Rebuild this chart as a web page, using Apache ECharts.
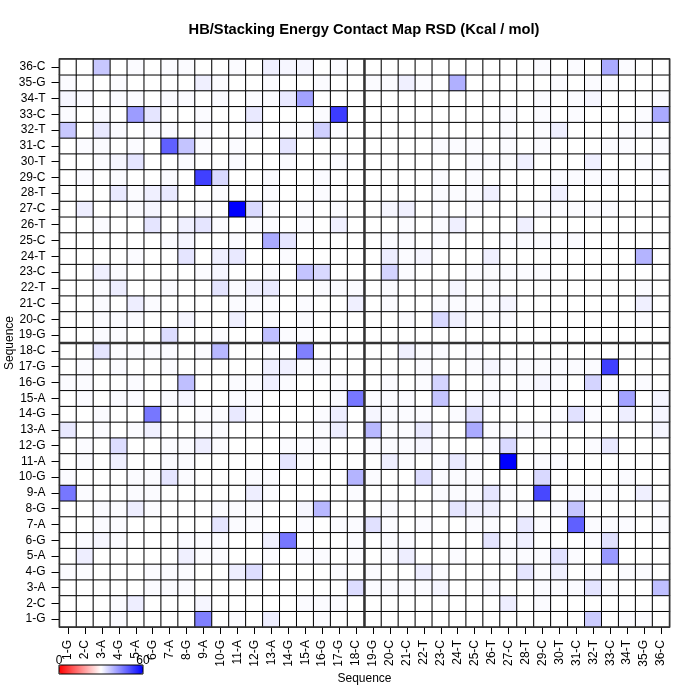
<!DOCTYPE html>
<html><head><meta charset="utf-8">
<script src="https://cdn.jsdelivr.net/npm/echarts@6/dist/echarts.min.js"></script>
<style>html,body{margin:0;padding:0;background:#fff}#c{width:700px;height:700px}</style>
</head><body><div id="c"></div>
<script>
const sequence = ['1-G','2-C','3-A','4-G','5-A','6-G','7-A','8-G','9-A','10-G','11-A','12-G','13-A','14-G','15-A','16-G','17-G','18-C','19-G','20-C','21-C','22-T','23-C','24-T','25-C','26-T','27-C','28-T','29-C','30-T','31-C','32-T','33-C','34-T','35-G','36-C'];
const legendTicks = ['0', '60'];
const colorMin = 0, colorMax = 60;
// rows: index 0 = '1-G' (bottom) ... index 35 = '36-C' (top); columns 1-G..36-C
const rsd = [
[30,30,30,30.5,30,30,30,30,45,30, 30.5,30,32,30,30,30.5,30,30,30,30, 30,30,30,30,30,30,30,30,30,30, 30,36,30,30.5,30.5,30],
[30,30,30,30.5,32,30,30,30,31,30, 30,30,30,30,30.5,30.5,30.5,30,30,30, 30,30,30,30,30,30,32,30,30.5,30, 30,30,30,30,30,30],
[30,30,30,30,30,30.5,30.5,30.5,30,30, 30,30,30,30,30,30,30,34,30.5,30.5, 30.5,30.5,31,30,30,30.5,30,30,30.5,30.5, 30.5,33,30.5,30,30,37.5],
[30.5,30.5,30,30,30,30.5,30.5,30.5,30,30, 32,34,30,30,30,30,30.5,30,30.5,30, 30,32,30.5,30,30,30,30,33,30.5,31.8, 30,30.5,30,30.5,30.5,30],
[30,32,30,30,30,30,30,31.8,30.5,30.5, 30,30,30.5,30,30.5,30.5,30,30.5,30,30.5, 32,30,30,30.5,30,30,30.5,30.5,30.5,33.5, 30.5,30,42,30,30,30],
[30,30.5,31,30.5,30,30,30,30.5,30.5,30.5, 30,30,31.8,46,30,30,30,30.5,30,30.5, 30.5,30,30,30,30,33,30.5,31.8,30,30, 30,30.5,33.5,30,30,30],
[30,30,30.5,30.5,30,30,30,30,30,33, 30.5,30.5,30,30,30.5,30,30.5,30.5,33.5,30.5, 30,30.5,30,30,30.5,30.5,30,32.6,30.5,30, 48.7,30.5,30.5,30.5,30,30.5],
[30,30,30.5,30.5,32,30.5,30,30,30,30.5, 30.5,30.5,30,30,31,38.4,30,30,30,30.5, 30,30,30,33,31.8,31.8,30,30.5,30,30.5, 37,30,30,30,30,30.5],
[46,30.5,30,30,30.5,30.5,30,30,30,30, 30,32,30.5,30,30,30,30,30.5,30,30, 30,30,30.5,30.5,30.5,33,30.5,30,51.5,30, 30.5,30.5,30.5,30,31.8,30],
[30.5,30,30,30,30.5,30.5,33,30.5,30,30, 30,30.5,30.5,30,30,30,30,38.8,30.5,30, 30,34,30.5,30.5,30.5,30,30,30,34.5,30, 30,30,30,30.5,30,30],
[30,30.5,30,31.8,30,30,30.5,30.5,30,30, 30,30,30,33,30.5,30,30,30,30,32, 30.5,30,30.5,32.6,30.5,30,60,30,30.5,30.5, 30,30,30,30,30,30],
[30,30.5,30,34,30,30,30.5,30.5,32,30.5, 30,30,30,30.5,30.5,30.5,30,30,30.5,30.5, 30.5,31,30,30,30,30.5,34.5,30,30,30, 30,30.5,32.6,30,30,30],
[32.6,30,30.5,30,30.5,31.8,30,30,30.5,30.5, 30,30,30,30,30,30.5,32,30,38.4,30.5, 30.5,32.6,30.5,30,40,30.5,30.5,30.5,30.5,30, 30,30,30,30,30,31],
[30,30,30.5,30,30,46,30,30,30.5,30.5, 32.6,30.5,30,30,30,30.5,32,30,31,30.5, 30.5,30.5,30,30.5,33.5,30,30,30,30,30.5, 33.5,30.5,30,32,30,31],
[30,30.5,30,30.5,30.5,30,30.5,31,30,30, 30.5,30.5,30,30,30,30,30.5,46,30.5,30.5, 30.5,30,37,30,30.5,30.5,30.5,30,30,30, 30,30,30,41,30,31],
[30.5,30.5,30,30,30.5,30,30,37.5,30,30, 30.5,30.5,31.8,30.5,30,30,30.5,30,30,30.5, 30,30.5,35,30,30,30.5,30,30.5,31,30.5, 30,35,30.5,30,30.5,30],
[30,30.5,30,30.5,30,30,30.5,30,30,30, 30,30,31.8,31.8,30.5,30.5,30,30,30,30, 30,30.5,30,30,30.5,31,30.5,30.5,30.5,30.5, 30.5,30.5,52.5,30,30,30],
[30,30,33,30.5,30.5,30.5,30.5,30,30.5,38.4, 30,30,30.5,30,45,30,30,30,30,30, 31.8,30.5,30.5,30,30.5,30,30,30,30,30, 30,30,30,30,30,30],
[30,30,30.5,30.5,30,30,34,30,30,30.5, 30,30,37.5,30.5,30.5,30,30,30,30,30, 30,30,30,30,30,30,30,30,30,30, 30,30,30,30,30,30],
[30,30,30.5,30.5,30.5,30,30,31,30,30, 31.8,30,30.5,30,30.5,30,30,30,30,30, 30.5,30,34.5,31.8,30.5,30.5,30.5,30,30,30, 30,30,30,30,30.5,30],
[30,30,30.5,30,32,30.5,30,30,30,30, 30.5,30.5,30.5,30,30.5,30,30,31.8,30,30.5, 30,30,30.5,30.5,30.5,30.5,31,30,30,30, 30,30,30,30,31.8,30],
[30,30,30.5,32,30,30,30.5,30,30,33, 30.5,31.8,32.6,30,30,30.5,30.5,30.5,30,30.5, 30,30,30,31,30,30.5,30,30,30,30, 30,30,30,30,30.5,30],
[30,30,31.8,30.5,30,30,30,30,30.5,31, 30,30,30.5,30,37,34.5,30,30,30,35, 30.5,30,30,30,30.5,30.5,30.5,30.5,30.5,30, 30,30,30,30,30,30],
[30,30,30,30,30.5,30,30,33,30,31.8, 32.6,30,30,30.5,30,30,30,30,30,32, 30.5,31,30,30,30,31.8,30,30,30,30, 30,30,30,30,38.8,30],
[30,30,30,30,30,30,30.5,31,30,30, 30.5,30,40,33,30,30,30,30,30,30.5, 30.5,30,30.5,30,30,30,30.5,30.5,30.5,30.5, 30.5,30,30,30,30,30],
[30,30,30.5,30,30,33,30,31.8,33,30.5, 30,30.5,30.5,30,30.5,30,31.8,30,30,30, 30.5,30,30.5,31.8,30,30,30,31.8,30,30, 30,30,30,30,30,30],
[30,32,30,30,30.5,31,30,30,30.5,30, 60,34.5,30.5,30,30.5,30,30.5,30,30,31, 31.8,30,30.5,30,30.5,30,30,30,30.5,30.5, 30.5,30.5,30.5,30,30,30],
[30,30,30,32.6,30.5,31.8,32.6,30,30,30.5, 30,30,30.5,30,30,30.5,30,30,30,30, 30,30,30.5,30.5,30.5,31.8,30,30,30,31.8, 30,30,30,30,30,30],
[30,30.5,30,30.5,30,30,30.5,30,52.5,34.5, 30,30,30.5,30,30,30.5,30,30,30,30, 30,30,30.5,30,30.5,30,30,30,30,30.5, 30.5,30.5,30.5,30,30,30.5],
[30,30,30.5,31,33,30,30,30.5,30,30, 30.5,30,30,30.5,30,30,30.5,30,30,30, 30,30,30,30,30.5,30.5,30.5,31.8,30,30, 30,31.8,30,30,30.5,30],
[30,30.5,30.5,30,30.5,30,48.7,37,30.5,30, 30.5,30,30,33,30,30,30,30,30,30, 30,30,30.5,30.5,30.5,30,30.5,30,30.5,30, 30,30,30.5,30.5,30,30.5],
[36.5,30,32.6,30.5,30,30.5,30.5,30,30.5,30, 30,30.5,30,30.5,30.5,35.5,30.5,30,30,30, 30,30,30,30,30,30,30.5,30,30.5,31.8, 30,30,30,30.5,30.5,30],
[30.5,30,30.5,30,41.6,33,30,30,30.5,30, 30,32.6,30,30,30,30.5,53,30,30,30, 30,30,30,30,30,30,30.5,30,30.5,30, 30.5,30,30,30,30.5,40],
[31,30.5,30,30.5,30.5,30,30.5,30.5,30,30.5, 30,30.5,30.5,32.6,41,30,30,30,30,30, 30,30,30,30,30,30,30,30,30.5,30, 30.5,31,30,30,30,30.5],
[30.5,30,30,30.5,30,30,30,30,31.8,30.5, 30,30,30.5,30,30,30.5,30,30,30.5,30.5, 31.8,30.5,30,39.3,30,30,30,30,30,30.5, 30,30.5,30.5,30,30,30],
[30,30,36.5,30,30.5,30,30.5,30.5,30,30, 30.5,30,31.8,31,31,30,30.5,30,30,30, 30,30,30,30,30,30,30,30,30.5,30, 30.5,30,40,30.5,30,30]
];

const chart = echarts.init(document.getElementById('c'), null, {renderer: 'canvas'});
const cells = [];
for (let r = 0; r < sequence.length; r++) {
  for (let c = 0; c < sequence.length; c++) cells.push([c, r, rsd[r][c]]);
}
const FONT = "'Liberation Sans', Arial, Helvetica, sans-serif";
const axisCommon = {
  type: 'category', data: sequence, name: 'Sequence', nameLocation: 'middle',
  nameMoveOverlap: false,
  nameTextStyle: {fontSize: 12, color: '#000', fontFamily: FONT},
  axisLine: {show: false},
  splitLine: {show: false},
  splitArea: {show: false}
};
chart.setOption({
  animation: false,
  backgroundColor: '#ffffff',
  textStyle: {fontFamily: FONT},
  title: {
    text: 'HB/Stacking Energy Contact Map RSD (Kcal / mol)',
    left: 364, top: 22, textAlign: 'center', padding: 0,
    textStyle: {fontSize: 14.7, fontWeight: 'bold', color: '#000', fontFamily: FONT}
  },
  grid: {left: 59.5, right: 30.5, top: 59, bottom: 73, outerBoundsMode: 'none', containLabel: false},
  xAxis: Object.assign({}, axisCommon, {
    nameGap: 46,
    axisTick: {show: true, alignWithLabel: true, length: 7, lineStyle: {color: '#000'}},
    axisLabel: {rotate: 90, interval: 0, fontSize: 12, color: '#000', margin: 13, fontFamily: FONT}
  }),
  yAxis: Object.assign({}, axisCommon, {
    nameGap: 44,
    axisTick: {show: true, alignWithLabel: true, length: 8, lineStyle: {color: '#000'}},
    axisLabel: {interval: 0, fontSize: 12, color: '#000', margin: 14, fontFamily: FONT}
  }),
  visualMap: {
    type: 'continuous', min: colorMin, max: colorMax, orient: 'horizontal',
    left: 59, top: 665, itemWidth: 9, itemHeight: 84, padding: 0,
    calculable: false, realtime: false, hoverLink: false,
    inRange: {color: ['#ff0000', '#ffffff', '#0000ff']}
  },
  series: [{
    type: 'heatmap', data: cells,
    itemStyle: {borderColor: '#000', borderWidth: 1},
    emphasis: {disabled: true}
  }]
});

const px = i => chart.convertToPixel({xAxisIndex: 0}, sequence[i]);
const py = i => chart.convertToPixel({yAxisIndex: 0}, sequence[i]);
const cw = px(1) - px(0);
const ch = py(0) - py(1);
const xMid = (px(17) + px(18)) / 2;
const yMid = (py(17) + py(18)) / 2;
const x0 = px(0) - cw / 2, x1 = px(35) + cw / 2;
const yB = py(0) + ch / 2, yT = py(35) - ch / 2;

chart.setOption({
  graphic: [
    {type: 'line', z: 100, shape: {x1: xMid, y1: yT, x2: xMid, y2: yB}, style: {stroke: '#333', lineWidth: 2.5}},
    {type: 'line', z: 100, shape: {x1: x0, y1: yMid, x2: x1, y2: yMid}, style: {stroke: '#333', lineWidth: 2.5}},
    {type: 'rect', z: 100, shape: {x: x0, y: yT, width: x1 - x0, height: yB - yT}, style: {fill: null, stroke: '#333', lineWidth: 1.5}},
    {type: 'rect', z: 100, shape: {x: 59, y: 665, width: 84, height: 9}, style: {fill: null, stroke: '#000', lineWidth: 1}},
    {type: 'text', z: 100, x: 59, y: 667, style: {text: legendTicks[0], fontSize: 12, fill: '#000', align: 'center', verticalAlign: 'bottom', font: '12px ' + FONT}},
    {type: 'text', z: 100, x: 143, y: 667, style: {text: legendTicks[1], fontSize: 12, fill: '#000', align: 'center', verticalAlign: 'bottom', font: '12px ' + FONT}}
  ]
});
</script>
</body></html>
